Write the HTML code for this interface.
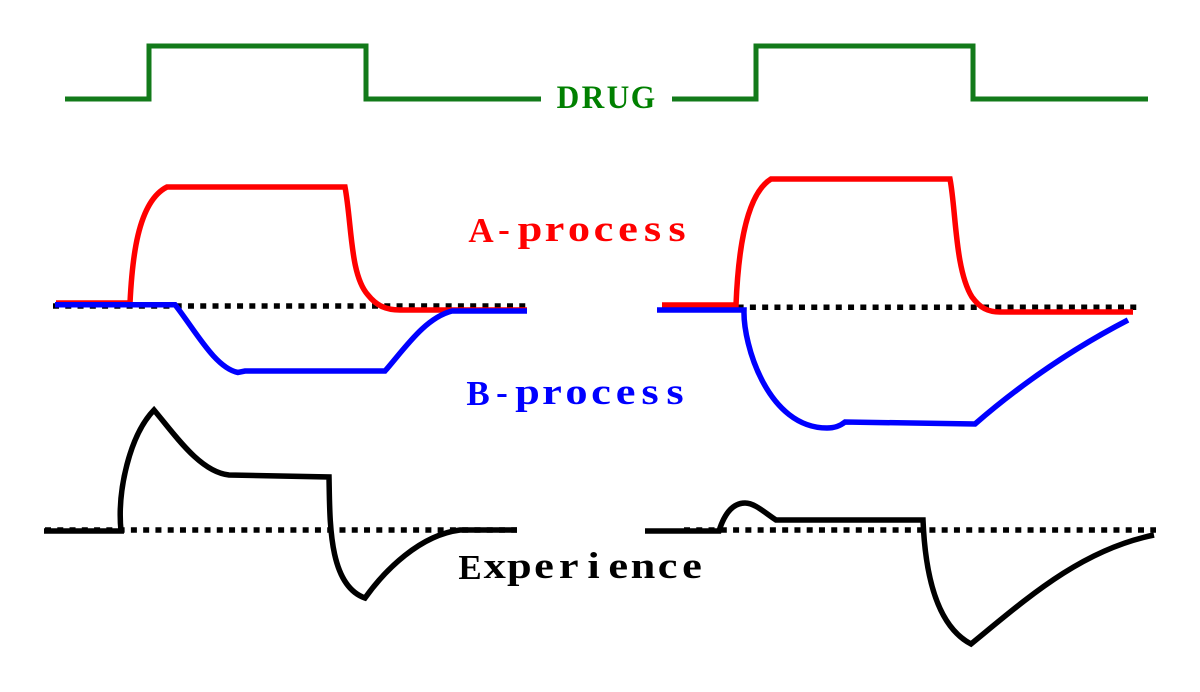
<!DOCTYPE html>
<html>
<head>
<meta charset="utf-8">
<style>
html,body{margin:0;padding:0;background:#fff;width:1200px;height:692px;overflow:hidden}
svg{display:block}
text{font-family:"Liberation Serif",serif;font-weight:bold;font-size:35px;text-anchor:middle}
.lc{font-size:37px}
</style>
</head>
<body>
<svg width="1200" height="692" viewBox="0 0 1200 692" fill="none" stroke-linejoin="miter">
<!-- drug -->
<g stroke="#127a1a" stroke-width="5">
<path d="M65 99H149V46H366V99H541"/>
<path d="M672 99H756V46H973V99H1148"/>
</g>
<!-- dotted baselines -->
<g stroke="#000" stroke-width="5.5" stroke-dasharray="6 6.27">
<path d="M53 306H527"/>
<path d="M664 307.3H1137"/>
<path d="M45 530H517"/>
<path d="M684 530H1156"/>
</g>
<!-- A-process -->
<g stroke="#ff0000" stroke-width="5.5">
<path d="M56 303H130C132 262 137 202 167 187H345C352 225 350 275 368 295C376 305 385 310 400 310H527"/>
<path d="M662 305H736C738 255 745 195 771 179H950C956 210 955 270 972 297C980 308 988 312 1000 312H1133"/>
</g>
<!-- B-process -->
<g stroke="#0000ff" stroke-width="5.5">
<path d="M55 304.7H175C195 330 215 368 238 372.5L245 371H385C405 348 425 318 452 311H527"/>
<path d="M657 310H744C743 345 768 428 827 428C835 428 840 426 845 422L975 424C1020 385 1070 350 1128 320"/>
</g>
<!-- Experience -->
<g stroke="#000" stroke-width="5.5">
<path d="M44 531H121C117 490 130 435 154 410C175 435 200 472 229 475L329 477C330 520 328 585 365 598C385 570 420 535 460 530H517"/>
<path d="M645 531H719C724 515 732 503 745 503C755 503 765 513 776 520H923C925 570 935 625 971 644C1025 600 1080 550 1154 535"/>
</g>
<!-- labels -->
<text y="108" fill="#008000" transform="scale(.95 1)" style="font-size:33px" x="597.900 624.200 650.500 676.800">DRUG</text>

<text y="242" fill="#ff0000" x="481">A</text>
<text y="241" fill="#ff0000" x="504">-</text>
<text y="241" fill="#ff0000" class="lc" transform="scale(1.2 1)" x="441.700 462.100 482.500 502.900 523.300 543.800 564.200">process</text>

<text y="405" fill="#0000ff" x="478">B</text>
<text y="404" fill="#0000ff" x="502">-</text>
<text y="404" fill="#0000ff" class="lc" transform="scale(1.2 1)" x="439.600 460 480.400 500.800 521.300 541.700 562.500">process</text>

<text y="579" fill="#000" x="470">E</text>
<text y="578" fill="#000" class="lc" transform="scale(1.2 1)" x="412.300 432.800 453.300 474 494.600 515.200 535.800 556.300 576.700">xperience</text>
</svg>
</body>
</html>
